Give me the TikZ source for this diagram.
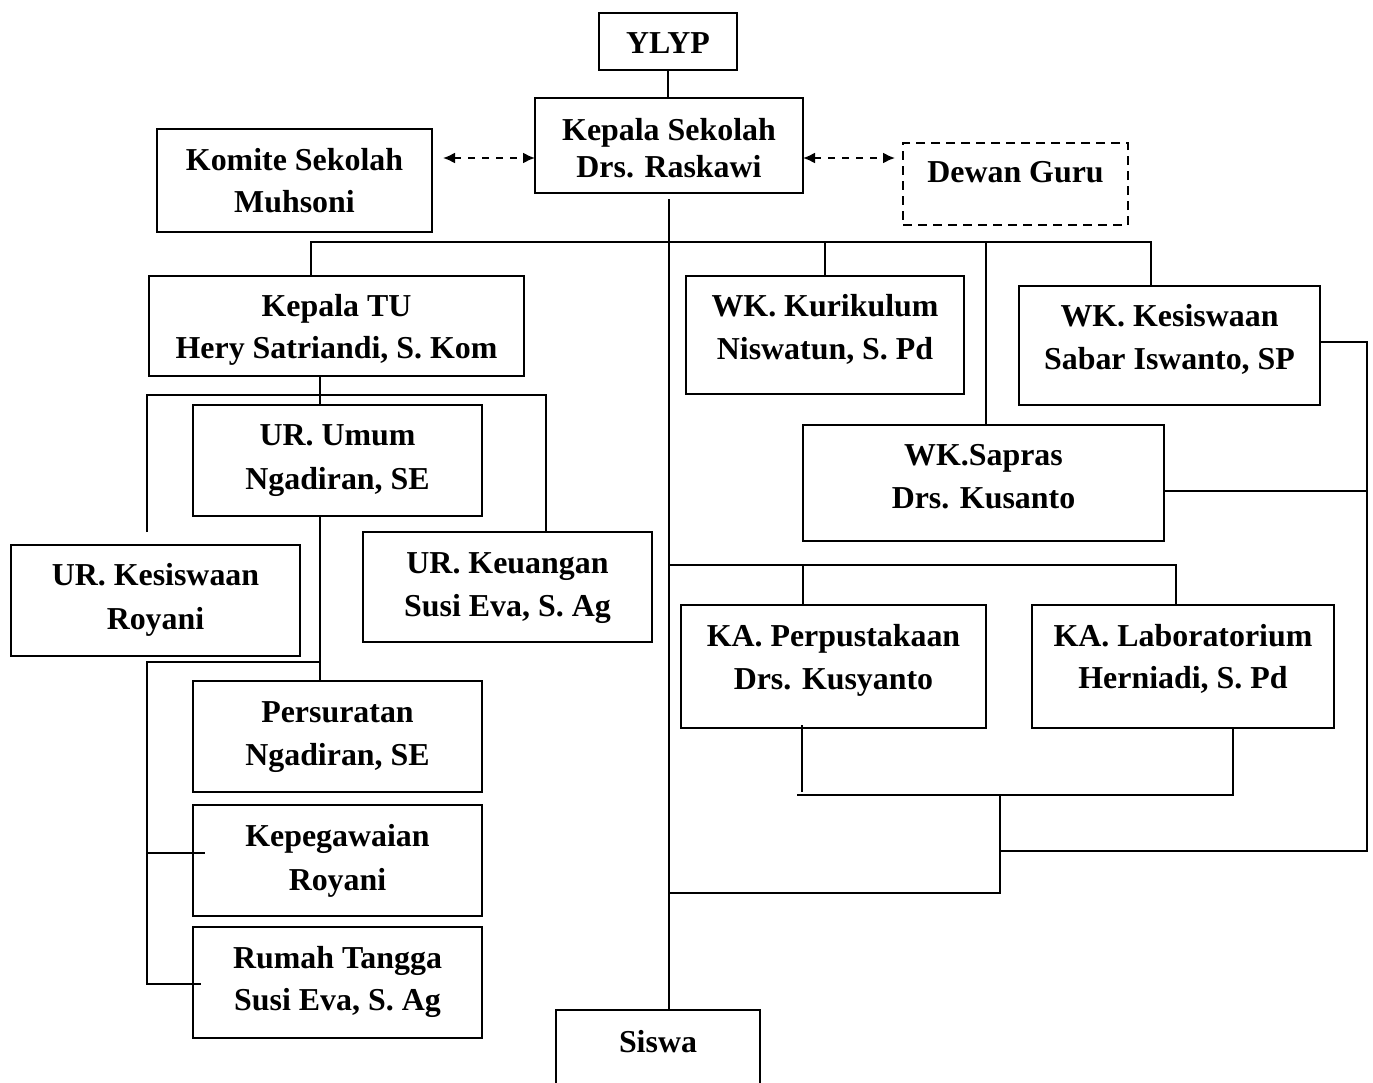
\documentclass[tikz,border=0pt]{standalone}
\usepackage{fontspec}
\setmainfont{Liberation Serif}
\usetikzlibrary{arrows.meta}
\newcommand\twoline[6]{%
  \node[txt] (#1-a) at (#2,#3) {#5};
  \node[txt] (#1-b) at (#2,#4) {#6};}
\begin{document}
\begin{tikzpicture}[x=0.5pt,y=-0.5pt,
  box/.style={draw,line width=1pt,inner sep=0pt,outer sep=0pt},
  dbox/.style={box,dash pattern=on 4.5pt off 3pt},
  txt/.style={anchor=base,inner sep=0pt,font=\bfseries\fontsize{15.95}{18}\selectfont},
  conn/.style={line width=0.95pt},
  darr/.style={line width=0.95pt,dash pattern=on 3.5pt off 3.5pt,{Latex[length=6pt,width=5.5pt]}-{Latex[length=6pt,width=5.5pt]}}]
\clip (0,0) rectangle (1373,1083);
\fill[white] (0,0) rectangle (1373,1083);

% boxes
\node[box,minimum width=69pt,minimum height=28.5pt] (ylyp) at (668,41.5) {};
\node[box,minimum width=134pt,minimum height=47.5pt] (kepsek) at (669,145.5) {};
\node[box,minimum width=137.5pt,minimum height=51.5pt] (komite) at (294.5,180.5) {};
\node[dbox,minimum width=112.5pt,minimum height=41pt] (dewan) at (1015.5,184) {};
\node[box,minimum width=187.5pt,minimum height=50pt] (kepTU) at (336.5,326) {};
\node[box,minimum width=139pt,minimum height=59pt] (wkkur) at (825,335) {};
\node[box,minimum width=150.5pt,minimum height=59.5pt] (wkkes) at (1169.5,345.5) {};
\node[box,minimum width=180.5pt,minimum height=58pt] (sapras) at (983.5,483) {};
\node[box,minimum width=144.5pt,minimum height=55.5pt] (urumum) at (337.5,460.5) {};
\node[box,minimum width=144.5pt,minimum height=55.5pt] (urkes) at (155.5,600.5) {};
\node[box,minimum width=144.5pt,minimum height=55pt] (urkeu) at (507.5,587) {};
\node[box,minimum width=152.5pt,minimum height=61.5pt] (perpus) at (833.5,666.5) {};
\node[box,minimum width=151pt,minimum height=61.5pt] (lab) at (1183,666.5) {};
\node[box,minimum width=144.5pt,minimum height=55.5pt] (persur) at (337.5,736.5) {};
\node[box,minimum width=144.5pt,minimum height=55.5pt] (kepeg) at (337.5,860.5) {};
\node[box,minimum width=144.5pt,minimum height=55.5pt] (rumah) at (337.5,982.5) {};
\node[box,minimum width=102pt,minimum height=42.5pt] (siswa) at (658,1052.5) {};

% texts
\node[txt] (ylyp-a) at (668,53.5) {YLYP};
\twoline{kepsek}{669}{140}{177}{Kepala Sekolah}{Drs. Raskawi}
\twoline{komite}{294.5}{170}{212}{Komite Sekolah}{Muhsoni}
\node[txt] (dewan-a) at (1015.5,182.5) {Dewan Guru};
\twoline{kepTU}{336.5}{316}{358}{Kepala TU}{Hery Satriandi, S. Kom}
\twoline{wkkur}{825}{316}{359}{WK. Kurikulum}{Niswatun, S. Pd}
\twoline{wkkes}{1169.5}{326}{369}{WK. Kesiswaan}{Sabar Iswanto, SP}
\twoline{sapras}{983.5}{465}{508}{WK.Sapras}{Drs. Kusanto}
\twoline{urumum}{337.5}{445}{489}{UR. Umum}{Ngadiran, SE}
\twoline{urkes}{155.5}{585}{629}{UR. Kesiswaan}{Royani}
\twoline{urkeu}{507.5}{573}{616}{UR. Keuangan}{Susi Eva, S. Ag}
\twoline{perpus}{833.5}{646}{689}{KA. Perpustakaan}{Drs. Kusyanto}
\twoline{lab}{1183}{646}{688}{KA. Laboratorium}{Herniadi, S. Pd}
\twoline{persur}{337.5}{722}{765}{Persuratan}{Ngadiran, SE}
\twoline{kepeg}{337.5}{846}{890}{Kepegawaian}{Royani}
\twoline{rumah}{337.5}{968}{1010}{Rumah Tangga}{Susi Eva, S. Ag}
\node[txt] (siswa-a) at (658,1052) {Siswa};

% named junction points
\coordinate (rb) at (1367,851);
\coordinate (mj) at (1000,851);
\coordinate (b1) at (1000,795);
\coordinate (b2) at (1000,893);

% dashed arrows
\draw[darr,shorten <=5.5pt] ([yshift=11.25pt]komite.east) -- ([yshift=-6.25pt]kepsek.west);
\draw[darr,shorten >=4pt] ([yshift=-6.25pt]kepsek.east) -- ([yshift=13pt]dewan.west);

% top
\draw[conn] (ylyp.south) -- (ylyp.south |- kepsek.north);
\draw[conn] ([yshift=-3pt]kepsek.south) -- (kepsek.south |- siswa.north);
\draw[conn] ([xshift=-12.75pt]kepTU.north) -- ++(0,-34) -| ([xshift=-9.25pt]wkkes.north);
\draw[conn] (wkkur.north) -- ++(0,-34);
\draw[conn] ([xshift=1.25pt]sapras.north) -- ++(0,-183);

% left side
\draw[conn] ([xshift=-8.25pt]kepTU.south) -- ([xshift=-8.25pt]kepTU.south |- urumum.north);
\draw[conn] ([xshift=-4.25pt,yshift=6.5pt]urkes.north) -- ++(0,-137) -| ([xshift=19.25pt]urkeu.north);
\draw[conn] ([xshift=-8.75pt]urumum.south) -- ([xshift=-8.75pt]urumum.south |- persur.north);
\draw[conn] ([xshift=-8.75pt,yshift=9.5pt]persur.north) -| ([xshift=-23pt,yshift=-0.75pt]rumah.west) -- ([xshift=4pt,yshift=-0.75pt]rumah.west);
\draw[conn] ([xshift=-23pt,yshift=3.75pt]kepeg.west) -- ([xshift=6pt,yshift=3.75pt]kepeg.west);

% right side
\draw[conn] (kepsek.south |- 0,565) -| ([xshift=-3.5pt]lab.north);
\draw[conn] ([xshift=-15.25pt]perpus.north) -- ++(0,-40);
\draw[conn] ([xshift=-15.75pt,yshift=1.5pt]perpus.south) -- ++(0,67);
\draw[conn] ([xshift=25pt]lab.south) -- ++(0,67) -- ++(-436,0);
\draw[conn] (b1) -- (b2) -- (kepsek.south |- b2);
\draw[conn] ([yshift=1.75pt]wkkes.east) -| (rb) -- (mj);
\draw[conn] ([yshift=-4pt]sapras.east) -- ([yshift=-4pt]sapras.east -| rb);
\end{tikzpicture}
\end{document}
